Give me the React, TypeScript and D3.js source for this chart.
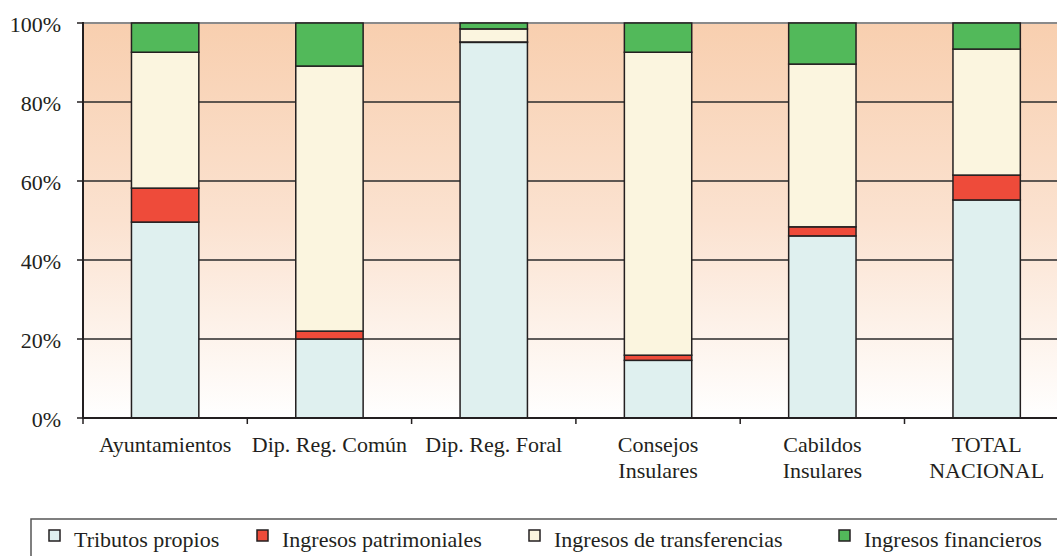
import React from "react";
import * as d3 from "d3";

const categories = ["Ayuntamientos", "Dip. Reg. Común", "Dip. Reg. Foral", "Consejos\nInsulares", "Cabildos\nInsulares", "TOTAL\nNACIONAL"];
const seriesNames = ["Tributos propios", "Ingresos patrimoniales", "Ingresos de transferencias", "Ingresos financieros"];
const tributos = [49.6, 20.0, 95.1, 14.6, 46.1, 55.2];
const patrimoniales = [8.6, 2.0, 0.1, 1.3, 2.3, 6.3];
const transferencias = [34.4, 67.1, 3.3, 76.7, 41.2, 31.9];
const financieros = [7.4, 10.9, 1.5, 7.4, 10.4, 6.6];
const yTicks = [0, 20, 40, 60, 80, 100];
const colors = ["#DFF0EF", "#EE4B3A", "#FBF5DF", "#52B95A"];

const W = 1057, H = 556;
const left = 83, top = 23, bottom = 418;
const step = 164.3;
const font = "Liberation Serif";
const ink = "#231F20";
const fs = 22;

export default function App() {
  const x = d3.scaleBand<string>().domain(categories).range([left, left + step * categories.length]).paddingInner(0.59).paddingOuter(0.295);
  const y = d3.scaleLinear().domain([0, 100]).range([bottom, top]);
  const rows = categories.map((c, i) => ({ cat: c, tributos: tributos[i], patrimoniales: patrimoniales[i], transferencias: transferencias[i], financieros: financieros[i] }));
  const keys = ["tributos", "patrimoniales", "transferencias", "financieros"];
  const stack = d3.stack<any>().keys(keys)(rows);
  const st = x.step();
  const legendX = [49, 257, 529, 839];

  return (
    <svg width={W} height={H} style={{ position: "absolute", left: 0, top: 0 }} fontFamily={font}>
      <defs>
        <linearGradient id="bg" x1="0" y1="0" x2="0" y2="1">
          <stop offset="0" stopColor="#F8CFAF" />
          <stop offset="0.5" stopColor="#FBE2D0" />
          <stop offset="1" stopColor="#FFFFFF" />
        </linearGradient>
      </defs>
      <rect x={left} y={top} width={W - left} height={bottom - top} fill="url(#bg)" />
      {yTicks.filter(t => t > 0 && t < 100).map(t => (
        <line key={t} x1={left} x2={W} y1={y(t)} y2={y(t)} stroke="#2a2a2a" strokeWidth={1.5} />
      ))}
      <line x1={left} x2={W} y1={y(100)} y2={y(100)} stroke="#8a8a8a" strokeWidth={2} />
      {stack.map((s, si) => (
        <g key={si}>
          {s.map((d, i) => (
            <rect key={i} x={x(categories[i])} width={x.bandwidth()} y={y(d[1])} height={y(d[0]) - y(d[1])}
              fill={colors[si]} stroke={ink} strokeWidth={1.5} />
          ))}
        </g>
      ))}
      <line x1={left} x2={left} y1={top - 1} y2={bottom + 1} stroke={ink} strokeWidth={2} />
      <line x1={left} x2={W} y1={bottom} y2={bottom} stroke={ink} strokeWidth={2} />
      {yTicks.map(t => (
        <g key={t}>
          <line x1={left - 6} x2={left} y1={y(t)} y2={y(t)} stroke={ink} strokeWidth={1.5} />
          <text x={61} y={y(t) + 9} textAnchor="end" fontSize={fs} fill={ink} fontFamily={font}>{t}%</text>
        </g>
      ))}
      {d3.range(categories.length + 1).map(i => (
        <line key={i} x1={left + i * st} x2={left + i * st} y1={bottom} y2={bottom + 6} stroke={ink} strokeWidth={1.5} />
      ))}
      {categories.map(c => (
        <text key={c} x={(x(c) as number) + x.bandwidth() / 2} y={452} textAnchor="middle" fontSize={fs} fill={ink} fontFamily={font}>
          {c.split("\n").map((ln, j) => (
            <tspan key={j} x={(x(c) as number) + x.bandwidth() / 2} dy={j === 0 ? 0 : 26}>{ln}</tspan>
          ))}
        </text>
      ))}
      <rect x={31} y={519} width={W} height={60} fill="none" stroke="#555" strokeWidth={1.5} />
      {seriesNames.map((n, i) => (
        <g key={n}>
          <rect x={legendX[i]} y={530} width={11} height={11} fill={colors[i]} stroke={ink} strokeWidth={1.5} />
          <text x={legendX[i] + 25} y={547} fontSize={fs} fill={ink} fontFamily={font}>{n}</text>
        </g>
      ))}
    </svg>
  );
}
